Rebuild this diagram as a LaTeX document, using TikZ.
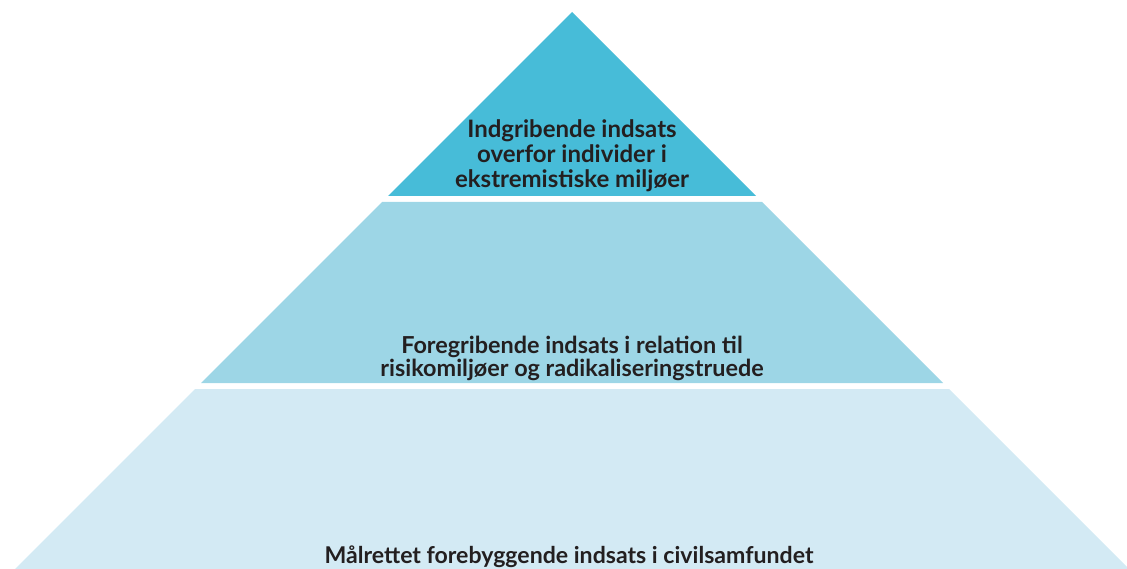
\documentclass[tikz,border=0pt]{standalone}
\usepackage{fontspec}
\setmainfont{Lato}
\definecolor{tierone}{HTML}{47BCD8}
\definecolor{tiertwo}{HTML}{9DD6E6}
\definecolor{tierthree}{HTML}{D3EAF4}
\definecolor{labelgray}{HTML}{231F20}
\begin{document}
\begin{tikzpicture}[x=1pt,y=-1pt,
tier/.style={
% The shape:
draw=none
},
label/.style={
inner sep=0pt,
align=center,
text=labelgray,
font=\bfseries\fontsize{24}{25}\selectfont
}
]
\useasboundingbox (0,0) rectangle (1127,569);
% tiers of the pyramid
\fill[tier,tierone] (572,12) -- (756,196) -- (388,196) -- cycle;
\fill[tier,tiertwo] (382,202) -- (762,202) -- (943,383) -- (201,383) -- cycle;
\fill[tier,tierthree] (195,389) -- (949,389) -- (1129,569) -- (15,569) -- cycle;
\node (top) [label] at (572,156) {Indgribende indsats\\overfor individer i\\ekstremistiske miljøer};
\node (middle) [label,font=\bfseries\fontsize{23.4}{23}\selectfont] at (572,358) {Foregribende indsats i relation til\\risikomiljøer og radikaliseringstruede};
\node (bottom) [label,font=\bfseries\fontsize{23.1}{25}\selectfont] at (569,557) {Målrettet forebyggende indsats i civilsamfundet};
\end{tikzpicture}
\end{document}
